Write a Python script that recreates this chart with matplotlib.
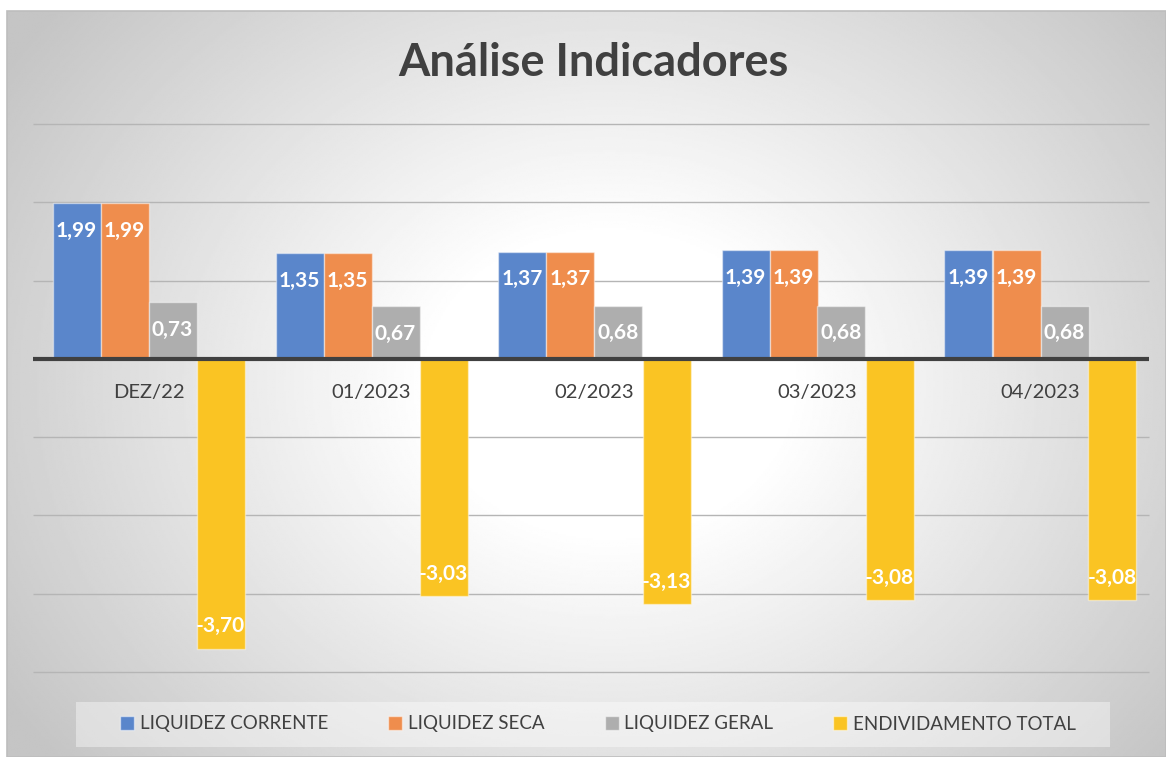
import numpy as np
import matplotlib.pyplot as plt
from matplotlib.patches import Rectangle, Patch

# Data
meses = ['DEZ/22', '01/2023', '02/2023', '03/2023', '04/2023']
liquidez_corrente = [1.99, 1.35, 1.37, 1.39, 1.39]
liquidez_seca = [1.99, 1.35, 1.37, 1.39, 1.39]
liquidez_geral = [0.73, 0.67, 0.68, 0.68, 0.68]
endividamento_total = [-3.70, -3.03, -3.13, -3.08, -3.08]

series = ['LIQUIDEZ CORRENTE', 'LIQUIDEZ SECA', 'LIQUIDEZ GERAL', 'ENDIVIDAMENTO TOTAL']
cores = ['#5A86CB', '#EF8D4D', '#AEAEAE', '#FAC423']

plt.rcParams['font.family'] = ['Lato', 'DejaVu Sans']

W, H = 1166, 757
fig = plt.figure(figsize=(W / 100, H / 100), dpi=100)

# background: radial gradient, white in the middle and gray on the borders
bg = fig.add_axes([7 / W, 0, 1 - 7 / W, (H - 11) / H], zorder=0)
xx, yy = np.meshgrid(np.linspace(0, 1, 600), np.linspace(0, 1, 400))
r = np.sqrt(((xx - 0.52) / 0.62) ** 2 + ((yy - 0.5) / 0.8) ** 2)
v = 1 - 0.23 * np.clip((r - 0.25) / 0.75, 0, 1)
bg.imshow(v, cmap='gray', vmin=0, vmax=1, extent=[0, 1, 0, 1], aspect='auto')
bg.set_xlim(0, 1)
bg.set_ylim(0, 1)
bg.axis('off')
fig.patches.append(Rectangle((7 / W, 0), 1 - 7 / W, (H - 11) / H, transform=fig.transFigure,
                             fill=False, edgecolor='#BDBDBD', lw=1.2, zorder=1))

# plot area
x0, x1 = 37, 1152
y_top, y_bot = 124, 672
ax = fig.add_axes([x0 / W, (H - y_bot) / H, (x1 - x0) / W, (y_bot - y_top) / H], zorder=2)
ax.patch.set_alpha(0)

x = np.arange(len(meses))
w = 48 / 223
valores = [liquidez_corrente, liquidez_seca, liquidez_geral, endividamento_total]
for k, (vals, cor) in enumerate(zip(valores, cores)):
    pos = x + (k - 1.5) * w
    ax.bar(pos, vals, width=w, color=cor, edgecolor=(1, 1, 1, 0.45), linewidth=1, zorder=3)
    for px, val in zip(pos, vals):
        off = -20 if val > 0 else 16
        ax.annotate(f'{val:.2f}'.replace('.', ','), (px, val), xytext=(0, off),
                    textcoords='offset points', ha='center', va='center',
                    color='white', fontsize=15, fontweight='bold', zorder=4)

for i, m in enumerate(meses):
    ax.annotate(m, (i, 0), xytext=(0, -24), textcoords='offset points',
                ha='center', va='center', fontsize=14.5, color='#404040', zorder=4)

ax.set_xlim(-0.5, len(meses) - 0.5)
ax.set_ylim(-4, 3)
ax.hlines([3, 2, 1, -1, -2, -3, -4], -0.518, 4.487, color='#B5B5B5', lw=1, zorder=1, clip_on=False)
ax.hlines(0, -0.518, 4.487, color='#404040', lw=3, zorder=5, clip_on=False)
ax.set_xticks([])
ax.set_yticks([])
for s in ax.spines.values():
    s.set_visible(False)

fig.text(593 / W, 1 - 63 / H, 'Análise Indicadores', ha='center', va='center',
         fontsize=32.5, fontweight='bold', color='#404040')

# legend box
fig.patches.append(Rectangle((76 / W, 1 - 747 / H), (1110 - 76) / W, 45 / H,
                             transform=fig.transFigure, facecolor='white', alpha=0.4,
                             edgecolor='none', zorder=1))
handles = [Patch(facecolor=c, edgecolor=(1, 1, 1, 0.5), label=s) for s, c in zip(series, cores)]
leg = fig.legend(handles=handles, loc='center', bbox_to_anchor=(598 / W, 1 - 724 / H),
                 ncol=4, frameon=False, fontsize=13.5, handlelength=0.75, handleheight=0.75,
                 handletextpad=0.3, columnspacing=3.2)
for t in leg.get_texts():
    t.set_color('#404040')

fig.savefig('out.png', dpi=100)
